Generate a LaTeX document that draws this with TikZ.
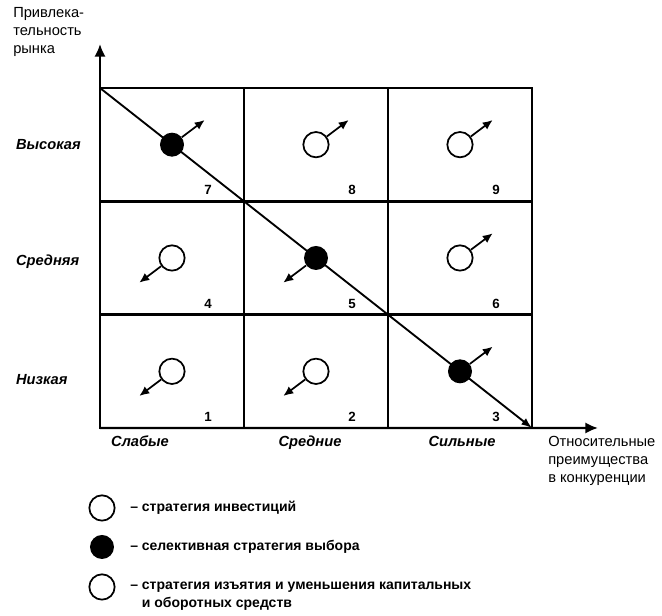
\documentclass[tikz,border=0pt]{standalone}
\usepackage{fontspec}
\setmainfont{Liberation Sans}
\usepackage{tikz}
\usetikzlibrary{arrows.meta,positioning,calc}

\begin{document}
\begin{tikzpicture}[x=0.75pt, y=0.75pt,
  cell/.style={draw, line width=1.8pt, minimum width=108pt,
               minimum height=85pt, inner sep=0pt, outer sep=0pt},
  num/.style={font=\bfseries\fontsize{10}{12}\selectfont, inner sep=0pt},
  rowlab/.style={font=\bfseries\itshape\fontsize{11}{13}\selectfont,
                 text width=50pt, align=left, inner sep=0pt},
  collab/.style={font=\bfseries\itshape\fontsize{11}{13}\selectfont,
                 anchor=base, inner sep=0pt},
  inv/.style={circle, draw, line width=1.3pt, fill=white,
              minimum size=19pt, inner sep=0pt},
  sel/.style={circle, fill=black, minimum size=18pt, inner sep=0pt},
  sarr/.style={-{Latex[length=7.5pt,width=6.5pt]}, line width=1.3pt},
  axis/.style={-{Latex[length=9.5pt,width=8.5pt]}, line width=1.8pt},
  diag/.style={-{Latex[length=8pt,width=6pt]}, line width=1.4pt},
  axlab/.style={font=\fontsize{11}{13.5}\selectfont, align=left, inner sep=0pt},
  legtext/.style={font=\bfseries\fontsize{10.5}{13.5}\selectfont, align=left,
                  anchor=west, inner sep=0pt}
]
\useasboundingbox (-100,-188) rectangle (562,428);

\foreach \r in {0,1,2}
  \foreach \c in {0,1,2} {
    \pgfmathtruncatemacro\n{3*\r+\c+1}
    \node[cell] (c\n) at (72+144*\c, 56.667+113.333*\r) {};
    \node[num] at ($(c\n.south east)+(-36,11)$) {\n};
  }

\coordinate (ytip) at (0,384);
\coordinate (xtip) at (498,0);
\draw[axis] (c1.south west) -- (ytip);
\draw[axis] (c1.south west) -- (xtip);
\draw[diag] (c7.north west) -- (c3.south east);

\foreach \n/\t/\a in {1/inv/217,2/inv/217,3/sel/37,4/inv/217,5/sel/217,
                      6/inv/37,7/sel/37,8/inv/37,9/inv/37} {
  \node[\t] (s\n) at (c\n) {};
  \coordinate (t\n) at ($(c\n)+(\a:41)$);
  \draw[sarr] (s\n) -- (t\n);
}

\node[rowlab, left=12.75pt of c7] (high) {Высокая};
\node[rowlab, left=12.75pt of c4, yshift=-3pt] (mid) {Средняя};
\node[rowlab, left=12.75pt of c1, yshift=-6pt] (low) {Низкая};

\node[collab] (weak) at ($(c1.south)+(-32,-19)$) {Слабые};
\node[collab] (avg) at ($(c2.south)+(-6,-19)$) {Средние};
\node[collab] (strong) at ($(c3.south)+(2,-19)$) {Сильные};

\node[axlab, anchor=north west] (ylab) at ($(ytip)+(-87,37)$)
  {Привлека-\\тельность\\рынка};
\node[axlab, anchor=north west] (xlab) at ($(xtip)+(-50,-8)$)
  {Относительные\\преимущества\\в конкуренции};

\node[inv] (l1) at (2,-80) {};
\node[sel] (l2) at (2,-119) {};
\node[inv] (l3) at (2,-159) {};
\node[legtext] at ($(l1)+(28,0)$) {– стратегия инвестиций};
\node[legtext] at ($(l2)+(28,0)$) {– селективная стратегия выбора};
\node[legtext] at ($(l3)+(28,-9)$)
  {– стратегия изъятия и уменьшения капитальных\\\phantom{– }и оборотных средств};

\end{tikzpicture}
\end{document}
